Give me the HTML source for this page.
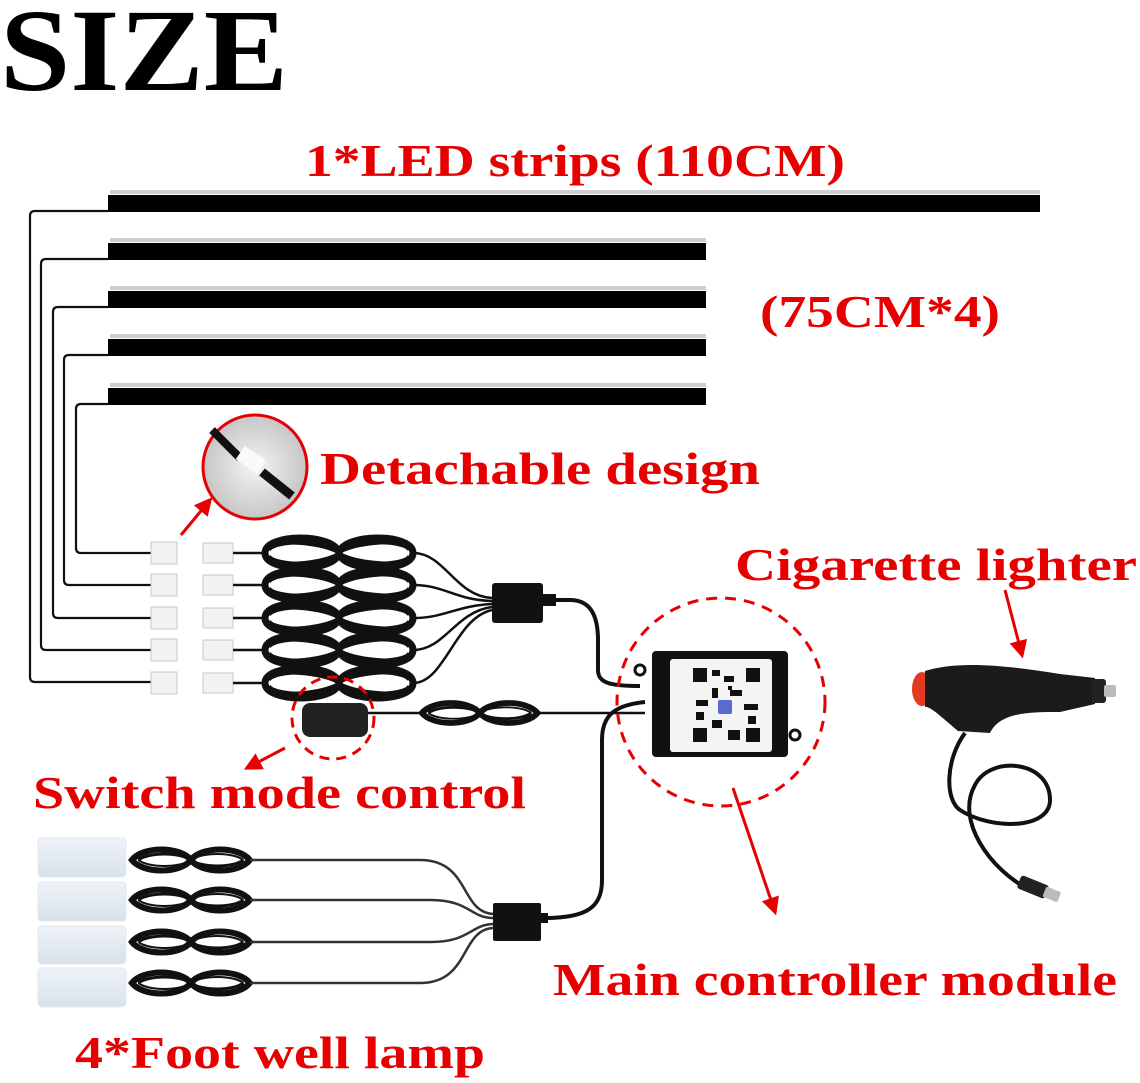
<!DOCTYPE html>
<html><head><meta charset="utf-8"><style>
html,body{margin:0;padding:0;background:#fff;width:1140px;height:1083px;overflow:hidden}
svg{display:block}
.r{fill:#e60000;font-family:"Liberation Serif",serif;font-weight:bold}
</style></head><body>
<svg width="1140" height="1083" viewBox="0 0 1140 1083" xmlns="http://www.w3.org/2000/svg">
<defs>
<marker id="ah" viewBox="0 0 10 10" refX="8" refY="5" markerWidth="6" markerHeight="6" orient="auto"><path d="M0,0 L10,5 L0,10 z" fill="#e60000"/></marker>
<radialGradient id="g1" cx="0.5" cy="0.5" r="0.6"><stop offset="0" stop-color="#f4f4f4"/><stop offset="1" stop-color="#bdbdbd"/></radialGradient>
<linearGradient id="lamp" x1="0" y1="0" x2="0" y2="1"><stop offset="0" stop-color="#eef3f8"/><stop offset="1" stop-color="#d8e2ea"/></linearGradient>
<g id="coil"><path d="M0,0 C10,-14 45,-14 55,0 C65,14 100,14 110,0 C100,-14 65,-14 55,0 C45,14 10,14 0,0 z" fill="none" stroke="#111" stroke-width="6"/><path d="M6,0 C15,-8 45,-8 55,0 C65,8 95,8 104,0" fill="none" stroke="#111" stroke-width="3"/><path d="M6,0 C15,8 45,8 55,0 C65,-8 95,-8 104,0" fill="none" stroke="#111" stroke-width="2"/></g>
<g id="bigcoil" fill="none" stroke="#111">
<path d="M0,0 C0,-20 70,-20 74,0 C78,20 148,20 148,0 C148,-20 78,-20 74,0 C70,20 0,20 0,0 z" stroke-width="7"/>
<path d="M4,-3 C10,-13 66,-14 74,0 C82,14 140,13 144,3" stroke-width="3.5"/>
<path d="M4,3 C10,13 66,14 74,0 C82,-14 140,-13 144,-3" stroke-width="3.5"/>
<path d="M10,-9 C30,-12 60,-8 74,0 C88,8 118,12 138,9" stroke-width="3"/>
<path d="M10,9 C30,12 60,8 74,0 C88,-8 118,-12 138,-9" stroke-width="2.5"/>
</g>
</defs>

<text x="0" y="90" font-family="Liberation Serif,serif" font-weight="bold" font-size="118" textLength="288" lengthAdjust="spacingAndGlyphs">SIZE</text>

<text class="r" x="305" y="176" font-size="46" textLength="540" lengthAdjust="spacingAndGlyphs">1*LED strips (110CM)</text>
<text class="r" x="760" y="327" font-size="46" textLength="240" lengthAdjust="spacingAndGlyphs">(75CM*4)</text>
<text class="r" x="320" y="484" font-size="46" textLength="440" lengthAdjust="spacingAndGlyphs">Detachable design</text>
<text class="r" x="735" y="580" font-size="46" textLength="402" lengthAdjust="spacingAndGlyphs">Cigarette lighter</text>
<text class="r" x="33" y="808" font-size="46" textLength="493" lengthAdjust="spacingAndGlyphs">Switch mode control</text>
<text class="r" x="553" y="995" font-size="46" textLength="564" lengthAdjust="spacingAndGlyphs">Main controller module</text>
<text class="r" x="75" y="1068" font-size="46" textLength="410" lengthAdjust="spacingAndGlyphs">4*Foot well lamp</text>

<g>
<rect x="110" y="190" width="930" height="4" fill="#cfcfcf"/><rect x="108" y="195" width="932" height="17" fill="#000"/>
<rect x="110" y="238" width="596" height="4" fill="#cfcfcf"/><rect x="108" y="243" width="598" height="17" fill="#000"/>
<rect x="110" y="286" width="596" height="4" fill="#cfcfcf"/><rect x="108" y="291" width="598" height="17" fill="#000"/>
<rect x="110" y="334" width="596" height="4" fill="#cfcfcf"/><rect x="108" y="339" width="598" height="17" fill="#000"/>
<rect x="110" y="383" width="596" height="4" fill="#cfcfcf"/><rect x="108" y="388" width="598" height="17" fill="#000"/>
</g>
<g fill="none" stroke="#111" stroke-width="2.2">
<path d="M108,211 H35 Q30,211 30,216 V677 Q30,682 35,682 H152"/>
<path d="M108,259 H46 Q41,259 41,264 V645 Q41,650 46,650 H152"/>
<path d="M108,307 H58 Q53,307 53,312 V613 Q53,618 58,618 H152"/>
<path d="M108,355 H69 Q64,355 64,360 V580 Q64,585 69,585 H152"/>
<path d="M108,404 H81 Q76,404 76,409 V548 Q76,553 81,553 H152"/>
</g>
<g fill="#f2f2f2" stroke="#c8c8c8" stroke-width="1">
<rect x="151" y="542" width="26" height="22"/><rect x="203" y="543" width="30" height="20"/>
<rect x="151" y="574" width="26" height="22"/><rect x="203" y="575" width="30" height="20"/>
<rect x="151" y="607" width="26" height="22"/><rect x="203" y="608" width="30" height="20"/>
<rect x="151" y="639" width="26" height="22"/><rect x="203" y="640" width="30" height="20"/>
<rect x="151" y="672" width="26" height="22"/><rect x="203" y="673" width="30" height="20"/>
</g>
<g stroke="#111" stroke-width="2.5"><path d="M233,553H266M233,585H266M233,618H266M233,650H266M233,683H266"/></g>
<g transform="translate(265,553)"><use href="#bigcoil"/></g>
<g transform="translate(265,585)"><use href="#bigcoil"/></g>
<g transform="translate(265,618)"><use href="#bigcoil"/></g>
<g transform="translate(265,650)"><use href="#bigcoil"/></g>
<g transform="translate(265,683)"><use href="#bigcoil"/></g>
<g fill="none" stroke="#111" stroke-width="2.5">
<path d="M413,553 C445,553 455,596 492,598"/><path d="M413,585 C445,585 455,600 492,601"/><path d="M413,618 C445,618 455,606 492,604"/><path d="M413,650 C445,650 455,612 492,607"/><path d="M413,683 C445,683 455,618 492,610"/>
</g>
<rect x="492" y="583" width="51" height="40" rx="3" fill="#111"/>
<rect x="542" y="594" width="14" height="12" fill="#111"/>
<path d="M555,600 H570 C590,600 598,615 598,640 V670 C598,683 610,686 640,686" fill="none" stroke="#111" stroke-width="4"/>
<rect x="302" y="703" width="66" height="34" rx="8" fill="#222"/>
<path d="M368,713 H424" stroke="#111" stroke-width="2.5"/>
<g transform="translate(422,713) scale(1.05,0.95)"><use href="#coil"/></g>
<path d="M537,713 H645" stroke="#111" stroke-width="2.5"/>
<circle cx="333" cy="718" r="41" fill="none" stroke="#e60000" stroke-width="3" stroke-dasharray="10,7"/>
<path d="M645,702 C615,705 602,715 602,740 V880 C602,905 590,918 545,918" fill="none" stroke="#111" stroke-width="4"/>
<rect x="652" y="651" width="136" height="106" rx="4" fill="#111"/>
<rect x="670" y="659" width="102" height="93" rx="3" fill="#f4f4f4"/>
<g fill="#111">
<rect x="693" y="668" width="14" height="14"/><rect x="746" y="668" width="14" height="14"/><rect x="693" y="728" width="14" height="14"/><rect x="746" y="728" width="14" height="14"/>
<rect x="712" y="670" width="8" height="6"/><rect x="724" y="676" width="10" height="6"/><rect x="712" y="688" width="6" height="10"/><rect x="730" y="690" width="12" height="6"/><rect x="696" y="700" width="12" height="6"/><rect x="744" y="704" width="14" height="6"/><rect x="712" y="720" width="10" height="8"/><rect x="728" y="730" width="12" height="10"/><rect x="696" y="712" width="8" height="8"/><rect x="748" y="716" width="8" height="8"/><rect x="728" y="686" width="4" height="4"/>
</g>
<rect x="718" y="700" width="14" height="14" rx="2" fill="#5a6bd0"/>
<circle cx="640" cy="670" r="5" fill="#fff" stroke="#111" stroke-width="3"/>
<circle cx="795" cy="735" r="5" fill="#fff" stroke="#111" stroke-width="3"/>
<circle cx="721" cy="702" r="104" fill="none" stroke="#e60000" stroke-width="3" stroke-dasharray="11,8"/>
<ellipse cx="922" cy="689" rx="10" ry="17" fill="#e33b22"/>
<path d="M925,671 C960,660 1010,666 1060,674 L1095,678 V704 L1060,712 C1030,712 1000,712 990,733 L958,731 C940,716 930,706 925,707 z" fill="#1b1b1b"/>
<rect x="1092" y="679" width="14" height="24" rx="3" fill="#222"/>
<rect x="1104" y="685" width="12" height="12" rx="2" fill="#bbb"/>
<path d="M965,733 C945,760 945,800 960,810 C990,830 1050,830 1050,800 C1050,760 990,755 975,785 C955,820 990,870 1030,890" fill="none" stroke="#111" stroke-width="4"/>
<rect x="1018" y="880" width="30" height="14" rx="3" fill="#222" transform="rotate(22 1033 887)"/>
<rect x="1044" y="889" width="16" height="11" rx="2" fill="#bbb" transform="rotate(22 1052 894)"/>
<circle cx="255" cy="467" r="52" fill="url(#g1)" stroke="#e60000" stroke-width="3"/>
<path d="M212,430 L240,458" stroke="#111" stroke-width="8"/>
<rect x="238" y="452" width="26" height="16" fill="#fafafa" transform="rotate(35 251 460)"/>
<path d="M262,472 L292,496" stroke="#111" stroke-width="9"/>
<g stroke="#e60000" stroke-width="3" fill="none" marker-end="url(#ah)">
<path d="M181,535 L210,500"/>
<path d="M1005,590 L1022,655"/>
<path d="M285,748 L247,768"/>
<path d="M733,788 L775,912"/>
</g>
<g fill="url(#lamp)" stroke="#e4e8ec">
<rect x="38" y="838" width="88" height="39" rx="4"/><rect x="38" y="882" width="88" height="39" rx="4"/><rect x="38" y="926" width="88" height="38" rx="4"/><rect x="38" y="968" width="88" height="39" rx="4"/>
</g>
<g transform="translate(132,860) scale(1.07,1)"><use href="#coil"/></g>
<g transform="translate(132,900) scale(1.07,1)"><use href="#coil"/></g>
<g transform="translate(132,942) scale(1.07,1)"><use href="#coil"/></g>
<g transform="translate(132,983) scale(1.07,1)"><use href="#coil"/></g>
<g fill="none" stroke="#333" stroke-width="2.5">
<path d="M250,860 H420 C470,860 460,912 493,914"/>
<path d="M250,900 H430 C470,900 470,918 493,918"/>
<path d="M250,942 H430 C470,942 470,925 493,924"/>
<path d="M250,983 H420 C470,983 460,930 493,928"/>
</g>
<rect x="493" y="903" width="48" height="38" rx="2" fill="#111"/>
<rect x="540" y="913" width="8" height="10" fill="#111"/>
</svg>
</body></html>
